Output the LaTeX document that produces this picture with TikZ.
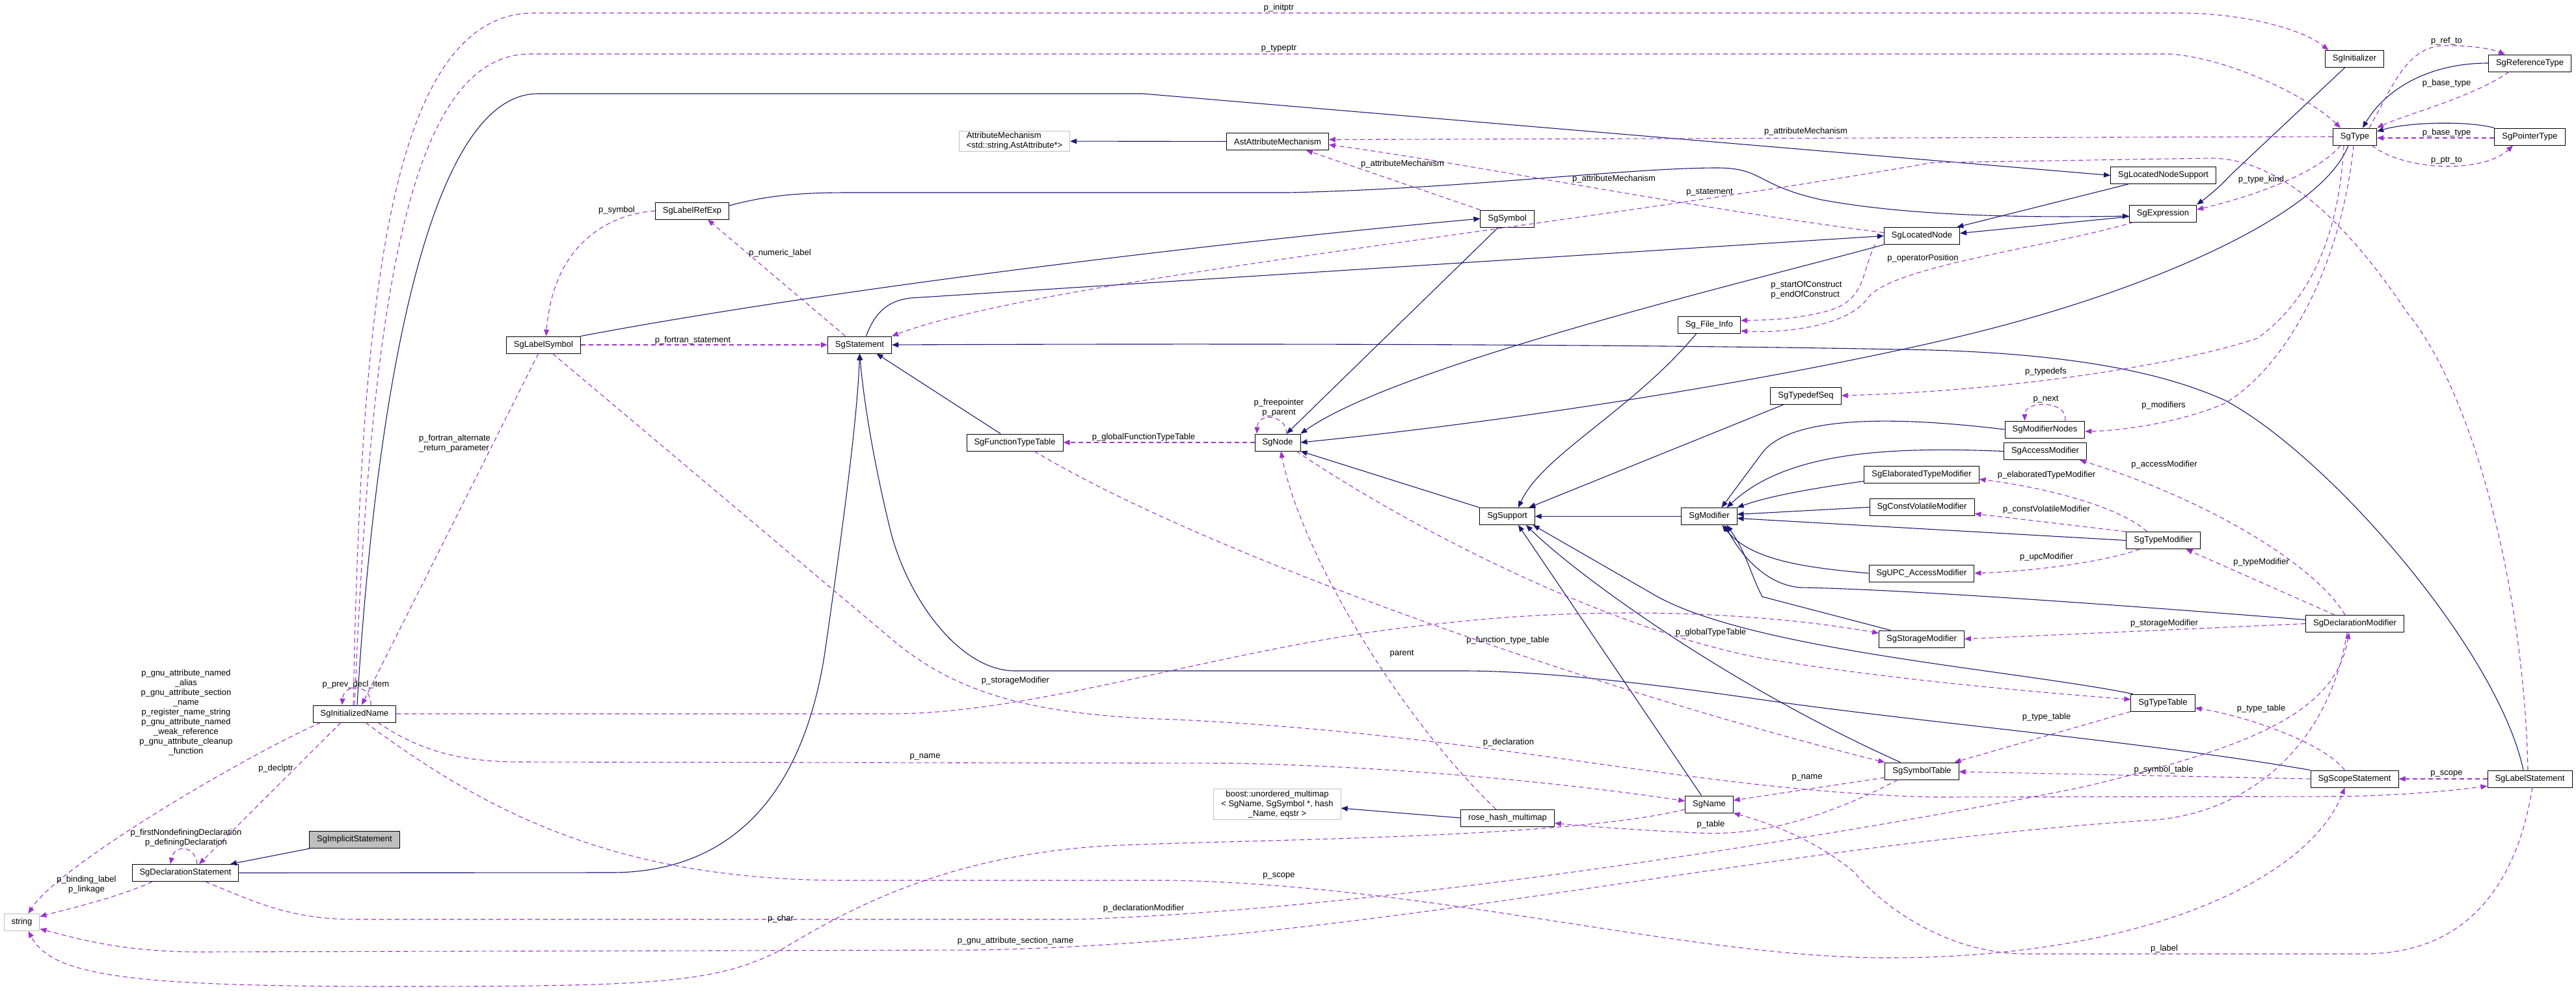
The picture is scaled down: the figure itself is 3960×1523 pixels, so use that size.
\documentclass[tikz,border=0pt]{standalone}
\usepackage{fontspec}
\setmainfont{Liberation Sans}
\usepackage{xcolor}
\definecolor{inh-navy}{HTML}{191970}
\definecolor{use-purple}{HTML}{9A32CD}
\definecolor{ext-gray}{HTML}{BFBFBF}
\usepackage{tikz}
\usetikzlibrary{arrows.meta}

\begin{document}
\begin{tikzpicture}[
            x=1pt, y=-1pt,
            every node/.style={font=\fontsize{13}{15}\selectfont},
            classbox/.style={rectangle, draw=black, fill=white, line width=1pt, minimum height=26pt, inner xsep=11.5pt, inner ysep=2pt},
            extbox/.style={classbox, draw=ext-gray},
            focusbox/.style={classbox, fill=ext-gray},
            edgelabel/.style={inner sep=0pt, align=center},
            inherit/.style={draw=inh-navy, line width=1.1pt, -{Triangle[length=10pt, width=8pt]}},
            uses/.style={draw=use-purple, line width=1.1pt, dash pattern=on 7pt off 5pt, -{Triangle[length=10pt, width=8pt]}}
        ]

        \useasboundingbox (0,0) rectangle (3960,1523);

        % --- 1. LEFT COLUMNS ---
        \node[extbox] (str) at (33.5,1417.5) {string};
        \node[classbox] (declstmt) at (285,1341.5) {SgDeclarationStatement};
        \node[focusbox] (implstmt) at (545,1290.5) {SgImplicitStatement};
        \node[classbox] (initname) at (545,1097) {SgInitializedName};
        \node[classbox] (labelsym) at (835.5,530) {SgLabelSymbol};
        \node[classbox] (labelref) at (1064,324) {SgLabelRefExp};
        \node[classbox] (stmt) at (1321.5,530) {SgStatement};
        \node[classbox] (functab) at (1560,680) {SgFunctionTypeTable};
        \node[extbox, align=left] (attrmech) at (1559.5,217) {AttributeMechanism\\<std::string,AstAttribute*>};

        % --- 2. MIDDLE COLUMNS ---
        \node[classbox] (astattr) at (1964,217.5) {AstAttributeMechanism};
        \node[classbox] (sgnode) at (1964,680) {SgNode};
        \node[extbox, align=center] (boost) at (1963.5,1236) {boost::unordered\_multimap\\< SgName, SgSymbol *, hash\\\_Name, eqstr >};
        \node[classbox] (symbol) at (2317,336) {SgSymbol};
        \node[classbox] (support) at (2317,793.5) {SgSupport};
        \node[classbox] (rosehash) at (2317.5,1257) {rose\_hash\_multimap};
        \node[classbox] (fileinfo) at (2627.5,499.5) {Sg\_File\_Info};
        \node[classbox] (modifier) at (2627.5,793.5) {SgModifier};
        \node[classbox] (sgname) at (2627.5,1236) {SgName};
        \node[classbox] (typedefseq) at (2776,608) {SgTypedefSeq};
        \node[classbox] (locnode) at (2954.5,362.5) {SgLocatedNode};
        \node[classbox] (elabmod) at (2954,729.5) {SgElaboratedTypeModifier};
        \node[classbox] (constvol) at (2954.5,779.5) {SgConstVolatileModifier};
        \node[classbox] (upcmod) at (2954,881) {SgUPC\_AccessModifier};
        \node[classbox] (storagemod) at (2954,982) {SgStorageModifier};
        \node[classbox] (symtab) at (2954.5,1185) {SgSymbolTable};

        % --- 3. RIGHT COLUMNS ---
        \node[classbox] (modnodes) at (3143.5,660) {SgModifierNodes};
        \node[classbox] (accessmod) at (3144,693.5) {SgAccessModifier};
        \node[classbox] (locnodesup) at (3325.5,269.5) {SgLocatedNodeSupport};
        \node[classbox] (expr) at (3325,328) {SgExpression};
        \node[classbox] (typemod) at (3325.5,830.5) {SgTypeModifier};
        \node[classbox] (typetable) at (3325,1080) {SgTypeTable};
        \node[classbox] (initializer) at (3619.5,90.5) {SgInitializer};
        \node[classbox] (sgtype) at (3620,210) {SgType};
        \node[classbox] (declmod) at (3620,958.5) {SgDeclarationModifier};
        \node[classbox] (scope) at (3619.5,1197) {SgScopeStatement};
        \node[classbox] (reftype) at (3889,97) {SgReferenceType};
        \node[classbox] (ptrtype) at (3889,210) {SgPointerType};
        \node[classbox] (labelstmt) at (3889,1197) {SgLabelStatement};

        % --- INHERITANCE ARROWS ---
        \draw[inherit] (implstmt) -- (declstmt);
        \draw[inherit] (declstmt.east) -- (940,1341) .. controls (1100,1341) and (1230,1250) .. (1268,1003) .. controls (1290,850) and (1318,650) .. (stmt.south);
        \draw[inherit] (scope.north west) .. controls (3300,1140) and (2950,1110) .. (2706,1075) .. controls (2500,1045) and (2350,1031) .. (2250,1031) -- (1560,1031) .. controls (1480,1031) and (1400,930) .. (1370,820) .. controls (1345,720) and (1328,620) .. (stmt.south);
        \draw[inherit] ([xshift=-10pt]labelstmt.north) .. controls (3840,1000) and (3580,700) .. (3420,615) .. controls (3330,575) and (3200,545) .. (2970,538) .. controls (2500,528) and (1800,528) .. (stmt.east);
        \draw[inherit] ([xshift=10pt]stmt.north) .. controls (1345,480) and (1365,462) .. (1400,458) -- (locnode.west);
        \draw[inherit] (labelsym.north east) .. controls (1300,440) and (1900,370) .. (symbol.west);
        \draw[inherit] ([yshift=8pt]labelref.east) .. controls (1180,300) and (1230,296) .. (1306,296) -- (1980,296) .. controls (2250,290) and (2500,258) .. (2640,258) .. controls (2710,258) and (2700,285) .. (2800,307) .. controls (2950,335) and (3150,334) .. ([yshift=-4pt]expr.west);
        \draw[inherit] ([xshift=4pt]initname.north) .. controls (575,650) and (650,144) .. (827,144) -- (1757,144) -- (locnodesup.west);
        \draw[inherit] (locnodesup) -- (locnode);
        \draw[inherit] ([yshift=-5pt]expr.west) -- ([yshift=4pt]locnode.east);
        \draw[inherit] ([xshift=-15pt]initializer.south) -- (3430,268) .. controls (3410,290) and (3390,305) .. (expr.north east);
        \draw[inherit] ([xshift=-10pt]sgtype.south) .. controls (3570,330) and (3300,450) .. (3000,520) .. controls (2700,590) and (2300,650) .. (sgnode.east);
        \draw[inherit] (reftype.west) .. controls (3730,97) and (3665,140) .. ([xshift=12pt]sgtype.north);
        \draw[inherit] (ptrtype.north west) .. controls (3790,185) and (3700,188) .. ([yshift=8pt]sgtype.east);
        \draw[inherit] (locnode.south west) .. controls (2700,430) and (2150,560) .. (sgnode.north east);
        \draw[inherit] (symbol) -- (sgnode);
        \draw[inherit] (typedefseq) -- (support);
        \draw[inherit] ([xshift=-20pt]fileinfo.south) .. controls (2510,630) and (2370,700) .. ([xshift=17pt]support.north);
        \draw[inherit] (modnodes.west) .. controls (2900,638) and (2745,640) .. (2706,700) -- ([xshift=19pt]modifier.north);
        \draw[inherit] (accessmod.west) .. controls (2880,685) and (2740,700) .. ([xshift=27pt]modifier.north);
        \draw[inherit] ([yshift=-10pt]elabmod.west) .. controls (2790,750) and (2720,762) .. (modifier.north east);
        \draw[inherit] (constvol.west) -- ([yshift=3pt]modifier.east);
        \draw[inherit] (typemod.west) -- ([yshift=-3pt]modifier.east);
        \draw[inherit] (upcmod.west) .. controls (2770,872) and (2690,860) .. ([xshift=20pt]modifier.south);
        \draw[inherit] ([yshift=6pt]declmod.west) .. controls (3200,925) and (2900,905) .. (2769,903) .. controls (2720,900) and (2680,860) .. ([xshift=24pt]modifier.south);
        \draw[inherit] ([xshift=-48pt]storagemod.north) -- (2709,917) .. controls (2690,880) and (2685,850) .. ([xshift=27pt]modifier.south);
        \draw[inherit] (modifier) -- (support);
        \draw[inherit] (support.north west) -- (sgnode.south east);
        \draw[inherit] ([xshift=-12pt]sgname.north) -- ([xshift=17pt]support.south);
        \draw[inherit] ([xshift=-33pt]symtab.north) .. controls (2650,1050) and (2420,880) .. ([xshift=29pt]support.south);
        \draw[inherit] ([xshift=-46pt]typetable.north) .. controls (3100,1030) and (2700,1000) .. (2548,917) -- ([xshift=-3pt]support.south east);
        \draw[inherit] ([xshift=-22pt]functab.north) -- ([xshift=26pt]stmt.south);
        \draw[inherit] (rosehash.west) -- ([yshift=-6pt]boost.east);
        \draw[inherit] (astattr) -- (attrmech);

        % --- MEMBER ARROWS ---
        \draw[uses] ([xshift=-2pt]initname.north) .. controls (555,500) and (590,20) .. (821,20) -- (3349,20) .. controls (3450,20) and (3540,45) .. ([xshift=-40pt]initializer.north);
        \draw[uses] (initname.north) .. controls (570,500) and (620,83) .. (815,83) -- (3336,83) .. controls (3430,90) and (3550,150) .. ([xshift=-22pt]sgtype.north);
        \draw[uses] ([xshift=25pt]initname.north) .. controls (572,1050) and (528,1050) .. ([xshift=-19pt]initname.north);
        \draw[uses] ([xshift=-8pt]labelsym.south) -- ([xshift=11pt]initname.north);
        \draw[uses] (labelsym.east) -- (stmt.west);
        \draw[uses] (labelref.west) .. controls (930,330) and (850,380) .. ([xshift=4pt]labelsym.north);
        \draw[uses] ([xshift=-22pt]stmt.north) -- ([xshift=24pt]labelref.south);
        \draw[uses] (symbol.north west) -- ([xshift=44pt]astattr.south);
        \draw[uses] ([yshift=5pt]locnode.west) .. controls (2600,320) and (2250,250) .. ([yshift=-5pt]astattr.east);
        \draw[uses] (sgtype.west) -- ([yshift=3pt]astattr.east);
        \draw[uses] ([xshift=-45pt]expr.south) .. controls (3150,380) and (2900,410) .. (2870,460) .. controls (2835,505) and (2730,512) .. ([yshift=-9pt]fileinfo.east);
        \draw[uses] ([xshift=-72pt]locnode.south) .. controls (2860,420) and (2870,465) .. (2801,480) .. controls (2760,490) and (2720,492) .. ([yshift=7pt]fileinfo.east);
        \draw[uses] ([xshift=-22pt]sgtype.south) .. controls (3560,270) and (3450,305) .. ([yshift=6pt]expr.east);
        \draw[uses] ([xshift=-32pt]reftype.south) .. controls (3800,150) and (3700,175) .. (sgtype.north east);
        \draw[uses] ([xshift=22pt]sgtype.north) .. controls (3680,130) and (3700,70) .. (3760,70) .. controls (3800,70) and (3830,75) .. ([xshift=-38pt]reftype.north);
        \draw[uses] ([yshift=-2pt]ptrtype.west) -- ([yshift=-2pt]sgtype.east);
        \draw[uses] ([xshift=26pt]sgtype.south) .. controls (3700,265) and (3820,265) .. ([xshift=-26pt]ptrtype.south);
        \draw[uses] (sgnode.west) -- (functab.east);
        \draw[uses] ([xshift=14pt]sgnode.north) .. controls (1978,638) and (1934,632) .. ([xshift=-32pt]sgnode.north);
        \draw[uses] ([xshift=-17pt]sgtype.south) .. controls (3595,380) and (3540,470) .. (3470,520) .. controls (3350,560) and (3100,600) .. (typedefseq.east);
        \draw[uses] ([xshift=-2pt]sgtype.south) .. controls (3600,400) and (3520,560) .. (3420,620) .. controls (3350,650) and (3260,662) .. ([yshift=-3pt]modnodes.east);
        \draw[uses] ([xshift=31pt]modnodes.north) .. controls (3180,615) and (3112,615) .. ([xshift=-31pt]modnodes.north);
        \draw[uses] ([xshift=-15pt]declmod.north) .. controls (3560,870) and (3400,770) .. ([xshift=53pt]accessmod.south);
        \draw[uses] ([xshift=-25pt]typemod.north) .. controls (3260,780) and (3150,750) .. ([yshift=-7pt]elabmod.east);
        \draw[uses] (typemod.north west) -- ([yshift=-10pt]constvol.east);
        \draw[uses] ([xshift=-36pt]typemod.south) .. controls (3230,865) and (3120,878) .. (upcmod.east);
        \draw[uses] ([xshift=-31pt]declmod.north) -- ([xshift=35pt]typemod.south);
        \draw[uses] (declmod.west) -- (storagemod.east);
        \draw[uses] (initname.east) -- (1370,1097) .. controls (1600,1097) and (1900,990) .. (2200,960) .. controls (2450,930) and (2700,940) .. ([yshift=9pt]storagemod.west);
        \draw[uses] ([xshift=36pt]initname.south) .. controls (640,1150) and (700,1171) .. (800,1171) -- (1900,1173) .. controls (2200,1180) and (2450,1210) .. ([yshift=5pt]sgname.west);
        \draw[uses] ([yshift=-10pt]symtab.west) -- ([yshift=6pt]sgname.east);
        \draw[uses] ([xshift=-37pt]symtab.south) .. controls (2800,1260) and (2700,1285) .. (2611,1280) .. controls (2520,1276) and (2440,1270) .. ([yshift=-8pt]rosehash.east);
        \draw[uses] ([xshift=-18pt]rosehash.north) .. controls (2150,1100) and (2000,850) .. ([xshift=5pt]sgnode.south);
        \draw[uses] ([xshift=30pt]functab.south) .. controls (1850,850) and (2450,1060) .. (symtab.north west);
        \draw[uses] ([xshift=29pt]sgnode.south) .. controls (2150,800) and (2450,960) .. (2700,1010) .. controls (2900,1045) and (3150,1065) .. ([yshift=5pt]typetable.west);
        \draw[uses] (scope.west) -- ([yshift=-1pt]symtab.east);
        \draw[uses] ([xshift=-15pt]scope.north) .. controls (3570,1140) and (3450,1100) .. ([yshift=-8pt]typetable.east);
        \draw[uses] (typetable.south west) -- ([xshift=50pt]symtab.north);
        \draw[uses] (labelstmt.west) -- (scope.east);
        \draw[uses] ([xshift=17pt]initname.south) .. controls (750,1250) and (950,1353) .. (1300,1353) -- (1800,1353) .. controls (2200,1360) and (2600,1472) .. (2900,1472) .. controls (3300,1472) and (3550,1350) .. ([xshift=-15pt]scope.south);
        \draw[uses] ([xshift=31pt]declstmt.south) .. controls (400,1390) and (450,1413) .. (550,1413) -- (1650,1413) .. controls (2100,1400) and (2800,1290) .. (3200,1210) .. controls (3450,1150) and (3590,1100) .. ([xshift=-9pt]declmod.south);
        \draw[uses] ([xshift=-12pt]declmod.south) .. controls (3580,1150) and (3450,1255) .. (3298,1261) .. controls (2700,1300) and (2100,1450) .. (1500,1460) -- (300,1463) .. controls (180,1462) and (110,1440) .. ([yshift=-10pt]str.east);
        \draw[uses] ([yshift=-8pt]sgname.west) .. controls (2400,1290) and (1900,1290) .. (1700,1300) .. controls (1450,1315) and (1300,1400) .. (1200,1460) .. controls (1100,1512) and (1000,1516) .. (600,1516) .. controls (200,1516) and (80,1500) .. ([xshift=10pt]str.south);
        \draw[uses] ([xshift=-51pt]declstmt.south) .. controls (180,1380) and (100,1398) .. ([yshift=9pt]str.east);
        \draw[uses] ([xshift=-52pt]initname.south) .. controls (380,1160) and (90,1330) .. ([xshift=10pt]str.north);
        \draw[uses] ([xshift=-21pt]initname.south) -- ([xshift=21pt]declstmt.north);
        \draw[uses] ([xshift=18pt]declstmt.north) .. controls (300,1298) and (268,1298) .. ([xshift=-23pt]declstmt.north);
        \draw[uses] ([xshift=14pt]labelsym.south) -- (1380,990) .. controls (1480,1070) and (1600,1100) .. (1811,1106) .. controls (2300,1130) and (2600,1215) .. (2970,1225) -- (3600,1224) .. controls (3700,1222) and (3770,1215) .. ([yshift=-11pt]labelstmt.west);
        \draw[uses] ([xshift=4pt]labelstmt.south) .. controls (3870,1350) and (3800,1466) .. (3633,1466) -- (3115,1466) .. controls (3000,1466) and (2900,1400) .. (2850,1340) .. controls (2790,1290) and (2720,1265) .. (sgname.south east);
        \draw[uses] ([xshift=-3pt]labelstmt.north) .. controls (3880,900) and (3800,600) .. (3700,480) .. controls (3600,330) and (3500,245) .. (3400,243) -- (2970,250) .. controls (2400,350) and (1600,430) .. (stmt.north east);

        % --- MEMBER LABELS ---
        \node[edgelabel] (lb_initptr) at (1966,12) {p\_initptr};
        \node[edgelabel] (lb_typeptr) at (1966,75) {p\_typeptr};
        \node[edgelabel] (lb_symbol) at (948,323) {p\_symbol};
        \node[edgelabel] (lb_numlabel) at (1199,389) {p\_numeric\_label};
        \node[edgelabel] (lb_fortstmt) at (1065,523) {p\_fortran\_statement};
        \node[edgelabel, align=left] (lb_fortalt) at (699,682) {p\_fortran\_alternate\\\_return\_parameter};
        \node[edgelabel] (lb_attr1) at (2156,252) {p\_attributeMechanism};
        \node[edgelabel] (lb_attr2) at (2481,275) {p\_attributeMechanism};
        \node[edgelabel] (lb_attr3) at (2776,202) {p\_attributeMechanism};
        \node[edgelabel] (lb_statement) at (2628,296) {p\_statement};
        \node[edgelabel] (lb_oppos) at (2956,397) {p\_operatorPosition};
        \node[edgelabel, align=left] (lb_construct) at (2777,446) {p\_startOfConstruct\\p\_endOfConstruct};
        \node[edgelabel] (lb_typekind) at (3476,276) {p\_type\_kind};
        \node[edgelabel] (lb_refto) at (3761,63) {p\_ref\_to};
        \node[edgelabel] (lb_base1) at (3761,128) {p\_base\_type};
        \node[edgelabel] (lb_base2) at (3761,204) {p\_base\_type};
        \node[edgelabel] (lb_ptrto) at (3761,247) {p\_ptr\_to};
        \node[edgelabel] (lb_gfuntab) at (1758,672) {p\_globalFunctionTypeTable};
        \node[edgelabel] (lb_parent2) at (1966,627) {p\_freepointer\\p\_parent};
        \node[edgelabel] (lb_typedefs) at (3145,571) {p\_typedefs};
        \node[edgelabel] (lb_next) at (3145,614) {p\_next};
        \node[edgelabel] (lb_modifiers) at (3326,623) {p\_modifiers};
        \node[edgelabel] (lb_accmod) at (3327,714) {p\_accessModifier};
        \node[edgelabel] (lb_elabmod) at (3146,730) {p\_elaboratedTypeModifier};
        \node[edgelabel] (lb_cvmod) at (3146,783) {p\_constVolatileModifier};
        \node[edgelabel] (lb_upcmod) at (3146,856) {p\_upcModifier};
        \node[edgelabel] (lb_typemod) at (3476,864) {p\_typeModifier};
        \node[edgelabel] (lb_stor1) at (3327,958) {p\_storageModifier};
        \node[edgelabel] (lb_stor2) at (1561,1046) {p\_storageModifier};
        \node[edgelabel] (lb_gtypetab) at (2630,972) {p\_globalTypeTable};
        \node[edgelabel] (lb_funtab) at (2318,984) {p\_function\_type\_table};
        \node[edgelabel] (lb_parent) at (2155,1005) {parent};
        \node[edgelabel] (lb_gnu) at (286,1095) {p\_gnu\_attribute\_named\\\_alias\\p\_gnu\_attribute\_section\\\_name\\p\_register\_name\_string\\p\_gnu\_attribute\_named\\\_weak\_reference\\p\_gnu\_attribute\_cleanup\\\_function};
        \node[edgelabel] (lb_prevdecl) at (547,1052) {p\_prev\_decl\_item};
        \node[edgelabel] (lb_declptr) at (424,1181) {p\_declptr};
        \node[edgelabel] (lb_defdecl) at (286,1288) {p\_firstNondefiningDeclaration\\p\_definingDeclaration};
        \node[edgelabel] (lb_binding) at (133,1360) {p\_binding\_label\\p\_linkage};
        \node[edgelabel] (lb_name1) at (1422,1163) {p\_name};
        \node[edgelabel] (lb_name2) at (2778,1195) {p\_name};
        \node[edgelabel] (lb_decl) at (2319,1141) {p\_declaration};
        \node[edgelabel] (lb_table) at (2630,1267) {p\_table};
        \node[edgelabel] (lb_ttab1) at (3146,1102) {p\_type\_table};
        \node[edgelabel] (lb_ttab2) at (3476,1089) {p\_type\_table};
        \node[edgelabel] (lb_symtab) at (3326,1183) {p\_symbol\_table};
        \node[edgelabel] (lb_scope1) at (3761,1189) {p\_scope};
        \node[edgelabel] (lb_scope2) at (1966,1346) {p\_scope};
        \node[edgelabel] (lb_declmod) at (1758,1396) {p\_declarationModifier};
        \node[edgelabel] (lb_char) at (1200,1412) {p\_char};
        \node[edgelabel] (lb_section) at (1561,1446) {p\_gnu\_attribute\_section\_name};
        \node[edgelabel] (lb_label) at (3327,1458) {p\_label};

        \end{tikzpicture}
\end{document}
